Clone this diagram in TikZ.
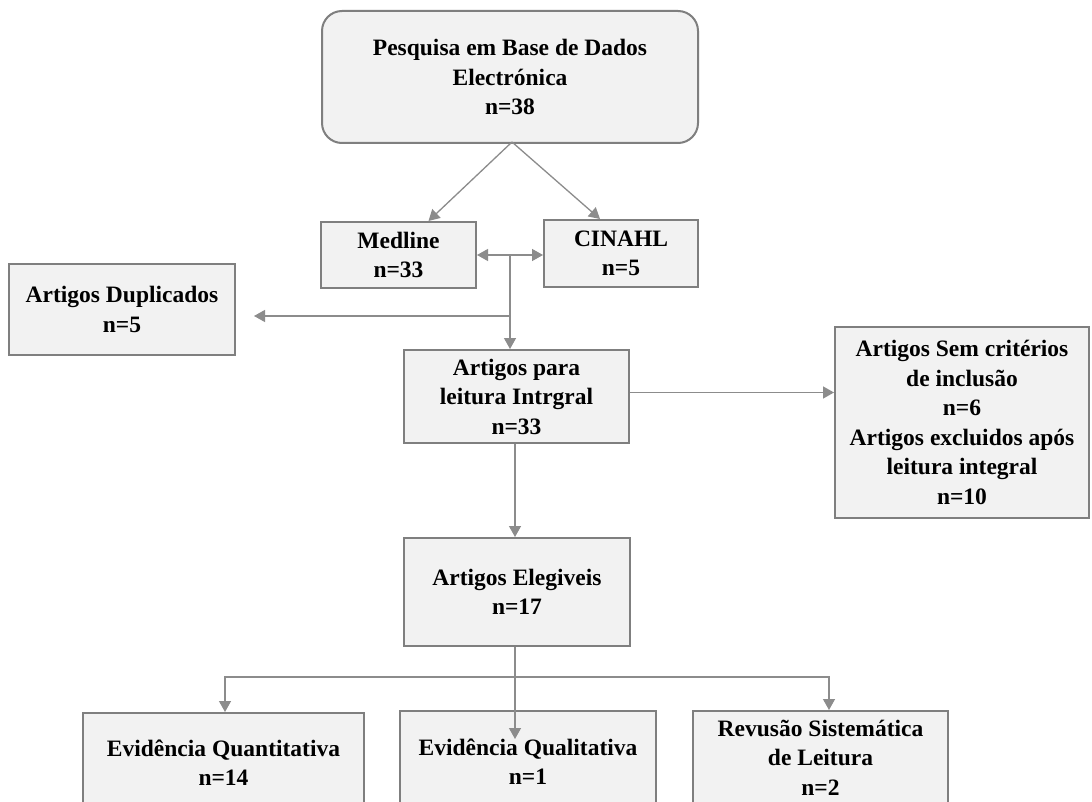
\documentclass[tikz,border=0pt]{standalone}
\usepackage{fontspec}
\setmainfont{Liberation Serif}
\usetikzlibrary{arrows.meta}
\definecolor{boxfill}{HTML}{F2F2F2}
\definecolor{boxline}{HTML}{7F7F7F}
\definecolor{arrline}{HTML}{8C8C8C}
\begin{document}
\begin{tikzpicture}[x=1pt,y=-1pt,
  box/.style={draw=boxline, fill=boxfill, line width=2pt, inner sep=0pt, align=center,
    font=\fontsize{23.5}{29.5}\selectfont\bfseries},
  conn/.style={draw=arrline, line width=1.3pt},
  tip/.tip={Triangle[length=11pt,width=12pt]},
  arr/.style={conn, -tip},
]
\path[use as bounding box] (0,0) rectangle (1092,802);
\clip (0,0) rectangle (1092,802);
\fill[white] (0,0) rectangle (1092,802);

\node[box, rounded corners=20pt, minimum width=376pt, minimum height=132pt] (top) at (510,77)
  {Pesquisa em Base de Dados\\Electrónica\\n=38};
\node[box, minimum width=155pt, minimum height=66pt] (medline) at (398.5,255) {Medline\\n=33};
\node[box, minimum width=154pt, minimum height=67pt] (cinahl) at (621,253.5) {CINAHL\\n=5};
\node[box, minimum width=226pt, minimum height=91pt] (dup) at (122,309.5) {Artigos Duplicados\\n=5};
\node[box, minimum width=225pt, minimum height=93pt] (leitura) at (516.5,396.5) {Artigos para\\leitura Intrgral\\n=33};
\node[box, minimum width=254pt, minimum height=191pt] (excl) at (962,422.5)
  {Artigos Sem critérios\\de inclusão\\n=6\\Artigos excluidos após\\leitura integral\\n=10};
\node[box, minimum width=226pt, minimum height=108pt] (eleg) at (517,592) {Artigos Elegiveis\\n=17};
\node[box, minimum width=281pt, minimum height=99pt] (quant) at (223.5,762.5) {Evidência Quantitativa\\n=14};
\node[box, minimum width=256pt, minimum height=101pt] (qual) at (528,761.5) {Evidência Qualitativa\\n=1};
\node[box, minimum width=255pt, minimum height=93pt] (rev) at (820.5,757.5) {Revusão Sistemática\\de Leitura\\n=2};

\draw[arr] ([xshift=2pt,yshift=2pt]top.south) -- ([xshift=30pt]medline.north);
\draw[arr] ([xshift=2pt,yshift=2pt]top.south) -- ([xshift=-21pt]cinahl.north);
\draw[conn, tip-tip] (medline.east) -- (medline.east -| cinahl.west);
\coordinate (j1) at (510,255);
\coordinate (j2) at (510,316);
\draw[arr] (j1) -- (j1 |- leitura.north);
\draw[arr] (j2) -- ([xshift=18pt]j2 -| dup.east);
\draw[arr] ([yshift=4pt]leitura.east) -- ([yshift=4pt]leitura.east -| excl.west);
\draw[arr] ([xshift=-1.5pt]leitura.south) -- ([xshift=-1.5pt]leitura.south |- eleg.north);
\coordinate (h) at (0,677);
\coordinate (j3) at ([xshift=-2pt]eleg.south |- h);
\draw[arr] (j3) -| ([xshift=1.5pt]quant.north);
\draw[arr] (j3) -| ([xshift=8.5pt]rev.north);
\draw[arr] ([xshift=-2pt]eleg.south) -- ++(0,92);
\end{tikzpicture}
\end{document}
